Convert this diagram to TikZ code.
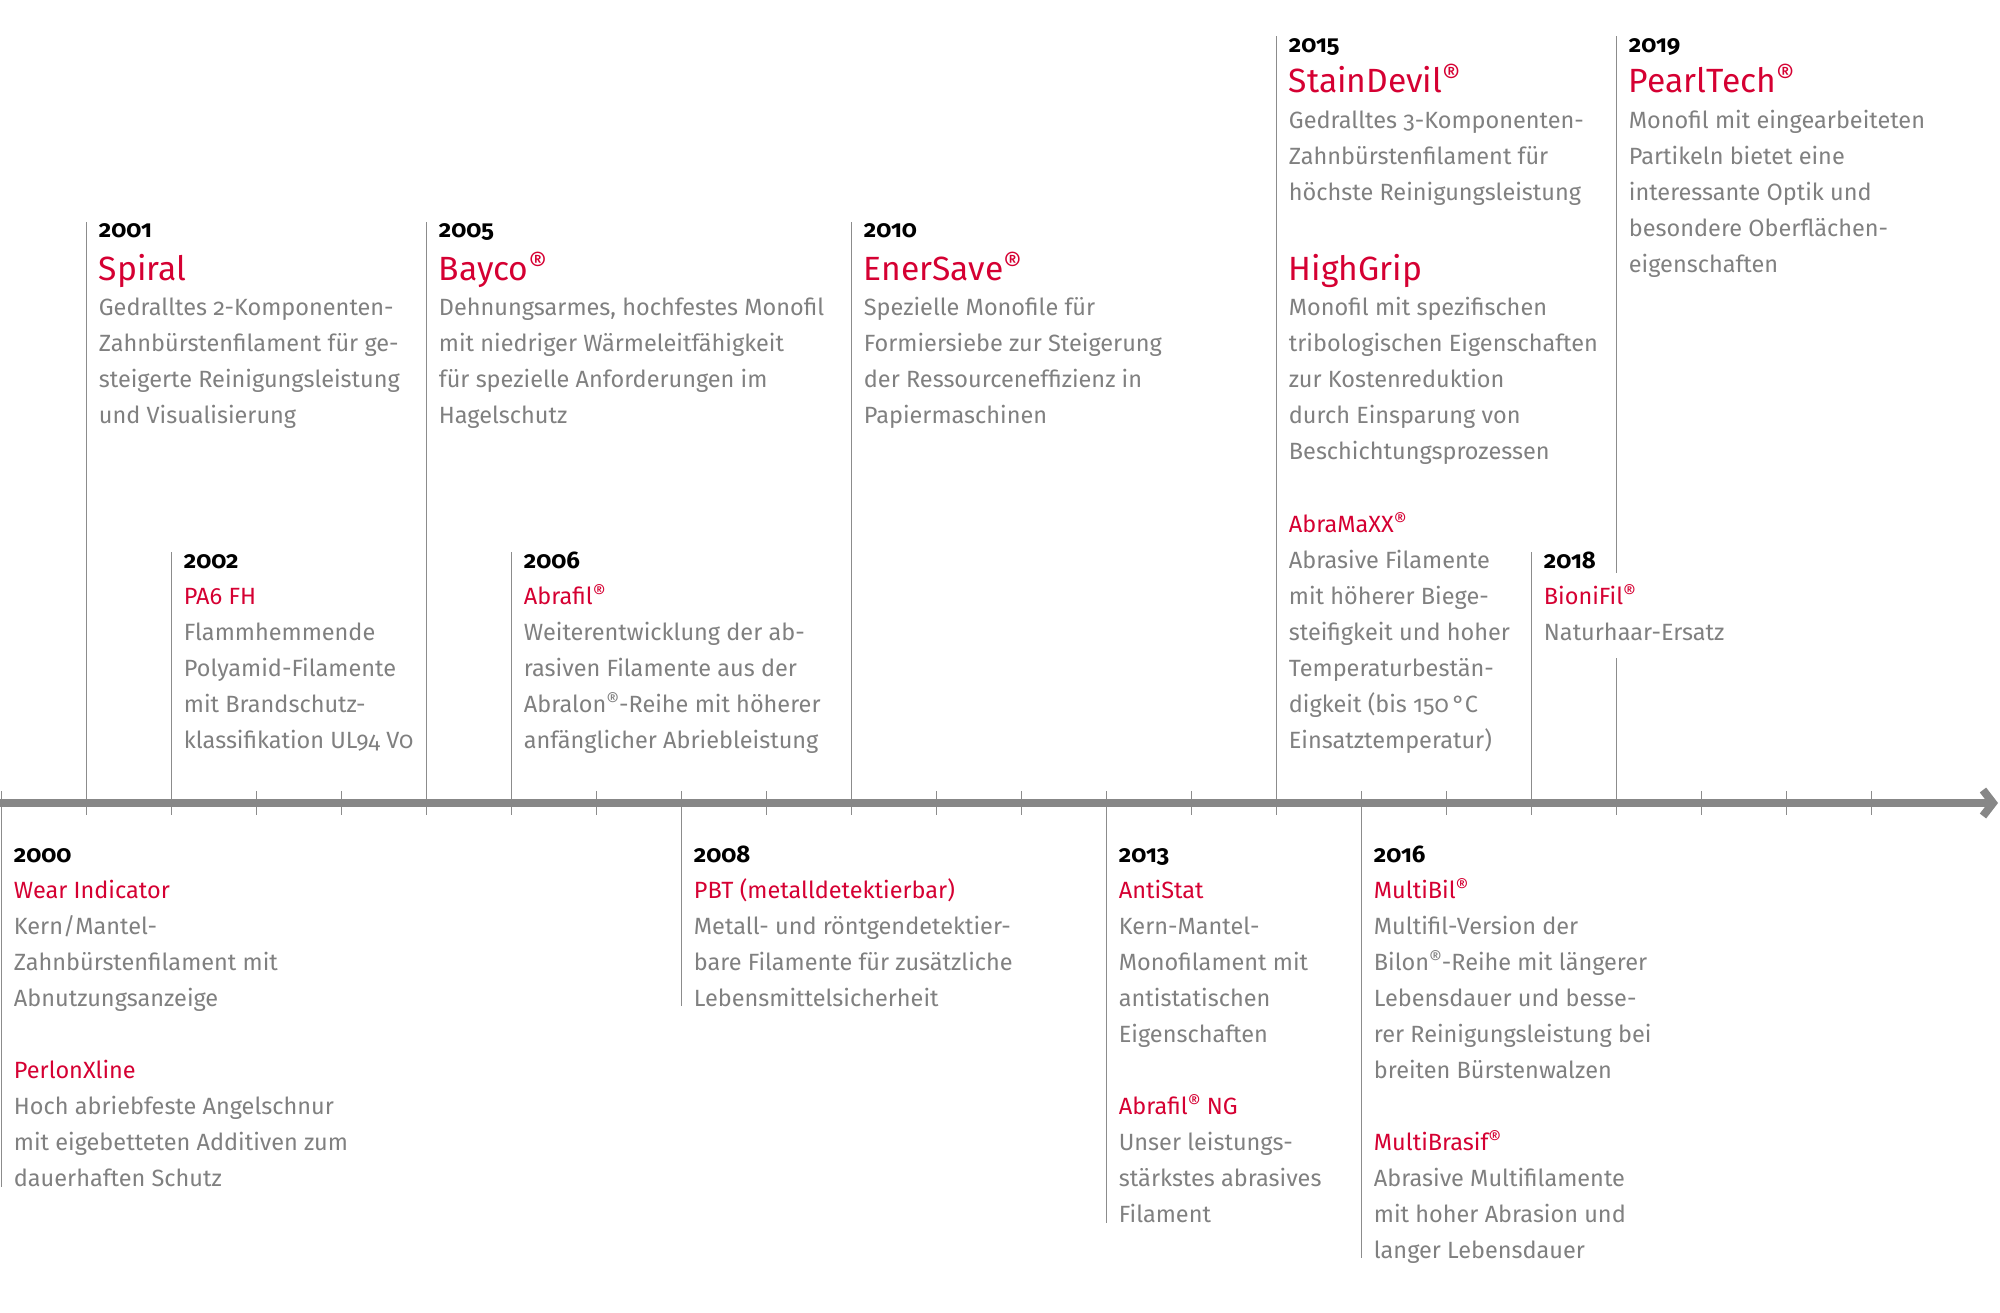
\documentclass[tikz,border=0pt]{standalone}
\usepackage{fontspec}
\setmainfont{Fira Sans}[Numbers=OldStyle]
\usetikzlibrary{arrows.meta}

\definecolor{brandred}{HTML}{D50032}
\definecolor{textgrey}{HTML}{808080}
\definecolor{linegrey}{HTML}{8C8C8C}
\definecolor{axisgrey}{HTML}{878787}

\newcommand{\regmark}{\raisebox{0.18em}{\scalebox{0.85}{®}}}
\newcommand{\textlines}[1]{\begin{tabular}[t]{@{}l@{}}#1\end{tabular}}

\tikzset{
	year/.style={anchor=base west, inner sep=0pt, text=black, font=\fontsize{12pt}{14pt}\selectfont\bfseries},
	bigprod/.style={anchor=base west, inner sep=0pt, text=brandred, font=\fontsize{16.8pt}{20pt}\selectfont},
	prod/.style={anchor=base west, inner sep=0pt, text=brandred, font=\fontsize{11.75pt}{18pt}\selectfont},
	info/.style={anchor=base west, inner sep=0pt, text=textgrey, font=\fontsize{11.75pt}{18pt}\selectfont},
	stem/.style={draw=linegrey, line width=0.9pt},
	tick/.style={draw=linegrey, line width=0.75pt},
	timeaxis/.style={draw=axisgrey, line width=4pt, -{Straight Barb[length=5pt, width=13pt]}}
}

\begin{document}
\begin{tikzpicture}[x=0.5pt, y=-0.5pt]

	\useasboundingbox (0, 0) rectangle (2000, 1312);

	% years on the axis
	\coordinate (a2000) at (1.5, 803);
	\coordinate (a2001) at (86.5, 803);
	\coordinate (a2002) at (171.5, 803);
	\coordinate (a2003) at (256.5, 803);
	\coordinate (a2004) at (341.5, 803);
	\coordinate (a2005) at (426.5, 803);
	\coordinate (a2006) at (511.5, 803);
	\coordinate (a2007) at (596.5, 803);
	\coordinate (a2008) at (681.5, 803);
	\coordinate (a2009) at (766.5, 803);
	\coordinate (a2010) at (851.5, 803);
	\coordinate (a2011) at (936.5, 803);
	\coordinate (a2012) at (1021.5, 803);
	\coordinate (a2013) at (1106.5, 803);
	\coordinate (a2014) at (1191.5, 803);
	\coordinate (a2015) at (1276.5, 803);
	\coordinate (a2016) at (1361.5, 803);
	\coordinate (a2017) at (1446.5, 803);
	\coordinate (a2018) at (1531.5, 803);
	\coordinate (a2019) at (1616.5, 803);
	\coordinate (a2020) at (1701.5, 803);
	\coordinate (a2021) at (1786.5, 803);
	\coordinate (a2022) at (1871.5, 803);

	\coordinate (axisL) at (0, 803);
	\coordinate (axisR) at (1998, 803);

	% stem ends
	\coordinate (top2001) at (86.5, 222);
	\coordinate (top2002) at (171.5, 552);
	\coordinate (top2005) at (426.5, 222);
	\coordinate (top2006) at (511.5, 552);
	\coordinate (top2010) at (851.5, 222);
	\coordinate (top2015) at (1276.5, 36);
	\coordinate (top2018) at (1531.5, 552);
	\coordinate (top2019) at (1616.5, 36);
	\coordinate (gapA2019) at (1616.5, 573);
	\coordinate (gapB2019) at (1616.5, 658);

	\coordinate (end2000) at (1.5, 1187);
	\coordinate (end2008) at (681.5, 1006);
	\coordinate (end2013) at (1106.5, 1223);
	\coordinate (end2016) at (1361.5, 1258);

	\draw[stem] (top2001) -- (a2001);
	\draw[stem] (top2002) -- (a2002);
	\draw[stem] (top2005) -- (a2005);
	\draw[stem] (top2006) -- (a2006);
	\draw[stem] (top2010) -- (a2010);
	\draw[stem] (top2015) -- (a2015);
	\draw[stem] (top2018) -- (a2018);
	\draw[stem] (top2019) -- (gapA2019);
	\draw[stem] (gapB2019) -- (a2019);

	\draw[stem] (a2000) -- (end2000);
	\draw[stem] (a2008) -- (end2008);
	\draw[stem] (a2013) -- (end2013);
	\draw[stem] (a2016) -- (end2016);

	% ticks
	\draw[tick] (a2000) ++(0, -12) -- ++(0, 24);
	\draw[tick] (a2001) ++(0, -12) -- ++(0, 24);
	\draw[tick] (a2002) ++(0, -12) -- ++(0, 24);
	\draw[tick] (a2003) ++(0, -12) -- ++(0, 24);
	\draw[tick] (a2004) ++(0, -12) -- ++(0, 24);
	\draw[tick] (a2005) ++(0, -12) -- ++(0, 24);
	\draw[tick] (a2006) ++(0, -12) -- ++(0, 24);
	\draw[tick] (a2007) ++(0, -12) -- ++(0, 24);
	\draw[tick] (a2008) ++(0, -12) -- ++(0, 24);
	\draw[tick] (a2009) ++(0, -12) -- ++(0, 24);
	\draw[tick] (a2010) ++(0, -12) -- ++(0, 24);
	\draw[tick] (a2011) ++(0, -12) -- ++(0, 24);
	\draw[tick] (a2012) ++(0, -12) -- ++(0, 24);
	\draw[tick] (a2013) ++(0, -12) -- ++(0, 24);
	\draw[tick] (a2014) ++(0, -12) -- ++(0, 24);
	\draw[tick] (a2015) ++(0, -12) -- ++(0, 24);
	\draw[tick] (a2016) ++(0, -12) -- ++(0, 24);
	\draw[tick] (a2017) ++(0, -12) -- ++(0, 24);
	\draw[tick] (a2018) ++(0, -12) -- ++(0, 24);
	\draw[tick] (a2019) ++(0, -12) -- ++(0, 24);
	\draw[tick] (a2020) ++(0, -12) -- ++(0, 24);
	\draw[tick] (a2021) ++(0, -12) -- ++(0, 24);
	\draw[tick] (a2022) ++(0, -12) -- ++(0, 24);

	\draw[timeaxis] (axisL) -- (axisR);

	% --- above the axis ---
	\node[year] (yr2001) at (98.5, 237) {2001};
	\node[bigprod] (pr2001) at (98.5, 280) {Spiral};
	\node[info] (tx2001) at (98.5, 315) {\textlines{Gedralltes 2-Komponenten-\\Zahnbürstenfilament für ge-\\steigerte Reinigungsleistung\\und Visualisierung}};

	\node[year] (yr2005) at (438.5, 237) {2005};
	\node[bigprod] (pr2005) at (438.5, 280) {Bayco\regmark};
	\node[info] (tx2005) at (438.5, 315) {\textlines{Dehnungsarmes, hochfestes Monofil\\mit niedriger Wärmeleitfähigkeit\\für spezielle Anforderungen im\\Hagelschutz}};

	\node[year] (yr2010) at (863.5, 237) {2010};
	\node[bigprod] (pr2010) at (863.5, 280) {EnerSave\regmark};
	\node[info] (tx2010) at (863.5, 315) {\textlines{Spezielle Monofile für\\Formiersiebe zur Steigerung\\der Ressourceneffizienz in\\Papiermaschinen}};

	\node[year] (yr2015) at (1288.5, 52) {2015};
	\node[bigprod] (pr2015) at (1288.5, 92) {StainDevil\regmark};
	\node[info] (tx2015) at (1288.5, 128) {\textlines{Gedralltes 3-Komponenten-\\Zahnbürstenfilament für\\höchste Reinigungsleistung}};
	\node[bigprod] (pr2015b) at (1288.5, 280) {HighGrip};
	\node[info] (tx2015b) at (1288.5, 315) {\textlines{Monofil mit spezifischen\\tribologischen Eigenschaften\\zur Kostenreduktion\\durch Einsparung von\\Beschichtungsprozessen}};
	\node[prod] (pr2015c) at (1288.5, 532) {AbraMaXX\regmark};
	\node[info] (tx2015c) at (1288.5, 568) {\textlines{Abrasive Filamente\\mit höherer Biege-\\steifigkeit und hoher\\Temperaturbestän-\\digkeit (bis 150\,°C\\Einsatztemperatur)}};

	\node[year] (yr2019) at (1628.5, 52) {2019};
	\node[bigprod] (pr2019) at (1628.5, 92) {PearlTech\regmark};
	\node[info] (tx2019) at (1628.5, 128) {\textlines{Monofil mit eingearbeiteten\\Partikeln bietet eine\\interessante Optik und\\besondere Oberflächen-\\eigenschaften}};

	\node[year] (yr2002) at (183.5, 568) {2002};
	\node[prod] (pr2002) at (183.5, 604) {PA6 FH};
	\node[info] (tx2002) at (183.5, 640) {\textlines{Flammhemmende\\Polyamid-Filamente\\mit Brandschutz-\\klassifikation UL94 V0}};

	\node[year] (yr2006) at (523.5, 568) {2006};
	\node[prod] (pr2006) at (523.5, 604) {Abrafil\regmark};
	\node[info] (tx2006) at (523.5, 640) {\textlines{Weiterentwicklung der ab-\\rasiven Filamente aus der\\Abralon\regmark-Reihe mit höherer\\anfänglicher Abriebleistung}};

	\node[year] (yr2018) at (1543.5, 568) {2018};
	\node[prod] (pr2018) at (1543.5, 604) {BioniFil\regmark};
	\node[info] (tx2018) at (1543.5, 640) {Naturhaar-Ersatz};

	% --- below the axis ---
	\node[year] (yr2000) at (13.5, 862) {2000};
	\node[prod] (pr2000) at (13.5, 898) {Wear Indicator};
	\node[info] (tx2000) at (13.5, 934) {\textlines{Kern/Mantel-\\Zahnbürstenfilament mit\\Abnutzungsanzeige}};
	\node[prod] (pr2000b) at (13.5, 1078) {PerlonXline};
	\node[info] (tx2000b) at (13.5, 1114) {\textlines{Hoch abriebfeste Angelschnur\\mit eigebetteten Additiven zum\\dauerhaften Schutz}};

	\node[year] (yr2008) at (693.5, 862) {2008};
	\node[prod] (pr2008) at (693.5, 898) {PBT (metalldetektierbar)};
	\node[info] (tx2008) at (693.5, 934) {\textlines{Metall- und röntgendetektier-\\bare Filamente für zusätzliche\\Lebensmittelsicherheit}};

	\node[year] (yr2013) at (1118.5, 862) {2013};
	\node[prod] (pr2013) at (1118.5, 898) {AntiStat};
	\node[info] (tx2013) at (1118.5, 934) {\textlines{Kern-Mantel-\\Monofilament mit\\antistatischen\\Eigenschaften}};
	\node[prod] (pr2013b) at (1118.5, 1114) {Abrafil\regmark{} NG};
	\node[info] (tx2013b) at (1118.5, 1150) {\textlines{Unser leistungs-\\stärkstes abrasives\\Filament}};

	\node[year] (yr2016) at (1373.5, 862) {2016};
	\node[prod] (pr2016) at (1373.5, 898) {MultiBil\regmark};
	\node[info] (tx2016) at (1373.5, 934) {\textlines{Multifil-Version der\\Bilon\regmark-Reihe mit längerer\\Lebensdauer und besse-\\rer Reinigungsleistung bei\\breiten Bürstenwalzen}};
	\node[prod] (pr2016b) at (1373.5, 1150) {MultiBrasif\regmark};
	\node[info] (tx2016b) at (1373.5, 1186) {\textlines{Abrasive Multifilamente\\mit hoher Abrasion und\\langer Lebensdauer}};

\end{tikzpicture}
\end{document}
